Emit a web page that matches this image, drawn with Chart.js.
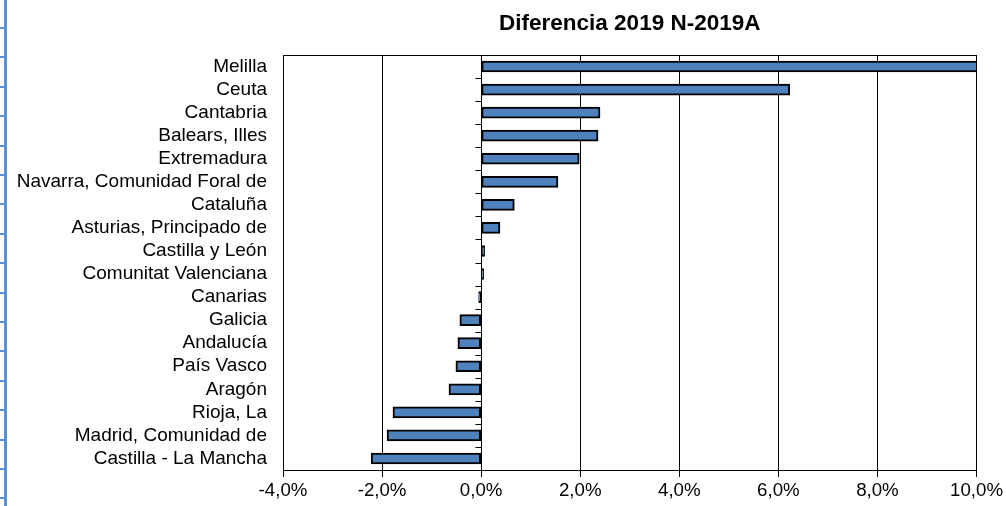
<!DOCTYPE html>
<html>
<head>
<meta charset="utf-8">
<script src="https://cdn.jsdelivr.net/npm/chart.js@4/dist/chart.umd.min.js"></script>
<style>
  html, body { margin: 0; padding: 0; background: #fff; }
  #wrap { width: 1006px; height: 506px; }
</style>
</head>
<body>
<div id="wrap"><canvas id="plot" width="1006" height="506"></canvas></div>
<script>
const regions = [
    'Melilla', 'Ceuta', 'Cantabria', 'Balears, Illes', 'Extremadura',
    'Navarra, Comunidad Foral de', 'Cataluña', 'Asturias, Principado de',
    'Castilla y León', 'Comunitat Valenciana', 'Canarias', 'Galicia',
    'Andalucía', 'País Vasco', 'Aragón', 'Rioja, La',
    'Madrid, Comunidad de', 'Castilla - La Mancha'
];
const diferencia = [
    10.1, 6.23, 2.40, 2.36, 1.98,
    1.55, 0.67, 0.38,
    0.07, 0.05, -0.05, -0.43,
    -0.47, -0.51, -0.65, -1.78,
    -1.90, -2.22
];
const xTicks = { min: -4, max: 10, step: 2 };

const fmt = (v) => v.toFixed(1).replace('.', ',') + '%';

// frame, ticks on the zero line and the blue sheet edge on the left
const extras = {
    id: 'extras',
    beforeDraw(chart) {
        const c = chart.ctx;
        c.save();
        c.fillStyle = '#5b8fdc';
        c.fillRect(4, 0, 3, chart.height);
        c.strokeStyle = '#5b8fdc';
        c.lineWidth = 2;
        for (let y = 28; y < chart.height; y += 29.4) {
            c.beginPath();
            c.moveTo(0, Math.round(y));
            c.lineTo(5, Math.round(y));
            c.stroke();
        }
        c.restore();
    },
    afterDatasetsDraw(chart) {
        const c = chart.ctx;
        const a = chart.chartArea;
        const xs = chart.scales.x, ys = chart.scales.y;
        c.save();
        c.strokeStyle = '#000';
        c.lineWidth = 1;
        c.strokeRect(Math.round(a.left) + 0.5, Math.round(a.top) + 0.5,
            Math.round(a.right - a.left) - 1, Math.round(a.bottom - a.top));
        const x0 = Math.round(xs.getPixelForValue(0)) + 0.5;
        const step = (a.bottom - a.top) / regions.length;
        for (let i = 1; i < regions.length; i++) {
            const y = Math.round(a.top + step * i) + 0.5;
            c.beginPath();
            c.moveTo(x0 - 6, y);
            c.lineTo(x0, y);
            c.stroke();
        }
        c.restore();
    }
};

const ctx = document.getElementById('plot');
const chart = new Chart(ctx, {
    type: 'bar',
    data: {
        labels: regions,
        datasets: [{
            label: 'Diferencia 2019 N-2019A',
            data: diferencia,
            backgroundColor: '#4f81bd',
            borderColor: '#000',
            borderWidth: 2,
            borderSkipped: false,
            barThickness: 11,
        }]
    },
    options: {
        indexAxis: 'y',
        responsive: false,
        animation: false,
        layout: { padding: { left: 0, right: 29, top: 0, bottom: 0 } },
        plugins: {
            legend: { display: false },
            tooltip: { enabled: false },
            title: {
                display: true,
                fullSize: false,
                text: 'Diferencia 2019 N-2019A',
                color: '#000',
                font: { family: '"Liberation Sans", Arial, sans-serif', size: 22.5, weight: 'bold' },
                padding: { top: 10, bottom: 18 }
            }
        },
        scales: {
            x: {
                min: xTicks.min,
                max: xTicks.max,
                ticks: {
                    stepSize: xTicks.step,
                    color: '#000',
                    padding: 3,
                    maxRotation: 0,
                    font: { family: '"Liberation Sans", Arial, sans-serif', size: 18.7 },
                    callback: (v) => fmt(v)
                },
                grid: { color: '#000', lineWidth: 1, tickLength: 7, tickColor: '#000' },
                border: { color: '#000', width: 1 },
                afterFit(s) { s.height = 36; }
            },
            y: {
                grid: { display: false, drawTicks: false },
                border: { display: false },
                ticks: {
                    color: '#000',
                    padding: 16,
                    autoSkip: false,
                    font: { family: '"Liberation Sans", Arial, sans-serif', size: 19 }
                },
                afterFit(s) { s.width = 283; }
            }
        }
    },
    plugins: [extras]
});
</script>
</body>
</html>
